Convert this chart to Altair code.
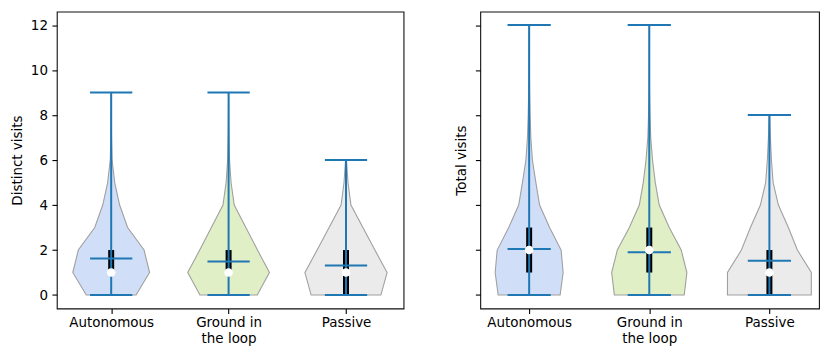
import altair as alt
import pandas as pd

categories = ["Autonomous", "Ground in the loop", "Passive"]
positions = [1, 2, 3]
fill_colors = ["#d0dff7", "#e0efc6", "#ebebeb"]

# Violin half-widths (x data units) read at integer y values
distinct_levels_auto = [0, 1, 2, 3, 4, 5, 6, 7, 8, 9]
distinct_hw_auto = [0.212, 0.327, 0.280, 0.140, 0.072, 0.030, 0.008, 0.003, 0.001, 0.0]
distinct_levels_ground = [0, 1, 2, 3, 4, 5, 6, 7, 8, 9]
distinct_hw_ground = [0.244, 0.348, 0.246, 0.147, 0.048, 0.021, 0.008, 0.003, 0.001, 0.0]
distinct_levels_passive = [0, 1, 2, 3, 4, 5, 6]
distinct_hw_passive = [0.297, 0.350, 0.246, 0.144, 0.042, 0.017, 0.004]

total_levels_auto = [0, 1, 2, 3, 4, 5, 6, 7, 8, 9, 10, 11, 12]
total_hw_auto = [0.258, 0.283, 0.266, 0.170, 0.087, 0.056, 0.027, 0.014, 0.008, 0.004, 0.002, 0.001, 0.0]
total_levels_ground = [0, 1, 2, 3, 4, 5, 6, 7, 8, 9, 10, 11, 12]
total_hw_ground = [0.291, 0.313, 0.266, 0.166, 0.083, 0.050, 0.027, 0.012, 0.006, 0.002, 0.001, 0.0005, 0.0]
total_levels_passive = [0, 1, 2, 3, 4, 5, 6, 7, 8]
total_hw_passive = [0.349, 0.349, 0.233, 0.158, 0.075, 0.031, 0.017, 0.008, 0.002]

# Summary statistics
distinct_min = [0, 0, 0]
distinct_max = [9, 9, 6]
distinct_mean = [1.62, 1.49, 1.31]
distinct_median = [1, 1, 1]
distinct_q1 = [1, 1, 0]
distinct_q3 = [2, 2, 2]

total_min = [0, 0, 0]
total_max = [12, 12, 8]
total_mean = [2.05, 1.90, 1.52]
total_median = [2, 2, 1]
total_q1 = [1, 1, 0]
total_q3 = [3, 3, 2]

y_ticks = [0, 2, 4, 6, 8, 10, 12]
CAP = 0.18
BLUE = "#1f77b4"
FONT = "DejaVu Sans"
FS = 13.5

label_expr = ("datum.value == 1 ? 'Autonomous' : datum.value == 2 ? "
              "['Ground in', 'the loop'] : 'Passive'")


def panel(levels, hws, mins, maxs, means, medians, q1s, q3s, ytitle, xdom, width, show_labels):
    xscale = alt.Scale(domain=xdom, nice=False, zero=False)
    yscale = alt.Scale(domain=[-0.6, 12.6], nice=False, zero=False)
    xaxis = alt.Axis(values=positions, labelExpr=label_expr, title=None,
                     labelLineHeight=16, labelPadding=2)
    yaxis = alt.Axis(values=y_ticks, title=ytitle, labels=show_labels,
                     titlePadding=6, labelPadding=4.5)

    layers = []
    for c, p, lv, hw, col in zip(categories, positions, levels, hws, fill_colors):
        vdf = pd.DataFrame({"y": lv, "lo": [p - h for h in hw], "hi": [p + h for h in hw]})
        layers.append(
            alt.Chart(vdf).mark_area(
                orient="horizontal", fill=col, stroke="#a0a0a0", strokeWidth=1.1, opacity=1
            ).encode(
                y=alt.Y("y:Q", scale=yscale, axis=yaxis),
                x=alt.X("lo:Q", scale=xscale, axis=xaxis, stack=None),
                x2="hi:Q",
            )
        )

    sdf = pd.DataFrame({
        "cat": categories, "pos": positions,
        "mn": mins, "mx": maxs, "mean": means, "median": medians,
        "q1": q1s, "q3": q3s,
    })
    sdf["clo"] = sdf["pos"] - CAP
    sdf["chi"] = sdf["pos"] + CAP
    base = alt.Chart(sdf)
    iqr = base.mark_rule(color="black", strokeWidth=6, strokeCap="butt").encode(
        x="pos:Q", y="q1:Q", y2="q3:Q")
    stem = base.mark_rule(color=BLUE, strokeWidth=2).encode(
        x="pos:Q", y="mn:Q", y2="mx:Q")
    cap_min = base.mark_rule(color=BLUE, strokeWidth=2).encode(
        x="clo:Q", x2="chi:Q", y="mn:Q")
    cap_max = base.mark_rule(color=BLUE, strokeWidth=2).encode(
        x="clo:Q", x2="chi:Q", y="mx:Q")
    cap_mean = base.mark_rule(color=BLUE, strokeWidth=2).encode(
        x="clo:Q", x2="chi:Q", y="mean:Q")
    med = base.mark_point(shape="circle", filled=True, color="white", size=75, opacity=1).encode(
        x="pos:Q", y="median:Q")
    layers += [iqr, stem, cap_min, cap_max, cap_mean, med]
    return alt.layer(*layers).properties(width=width, height=298)


left = panel(
    [distinct_levels_auto, distinct_levels_ground, distinct_levels_passive],
    [distinct_hw_auto, distinct_hw_ground, distinct_hw_passive],
    distinct_min, distinct_max, distinct_mean, distinct_median, distinct_q1, distinct_q3,
    "Distinct visits", [0.537, 3.49], 348, True)
right = panel(
    [total_levels_auto, total_levels_ground, total_levels_passive],
    [total_hw_auto, total_hw_ground, total_hw_passive],
    total_min, total_max, total_mean, total_median, total_q1, total_q3,
    "Total visits", [0.593, 3.413], 340, False)

chart = alt.hconcat(left, right, spacing=50).resolve_scale(
    x="independent", y="independent"
).properties(
    padding={"left": 1, "top": 2, "right": 2, "bottom": 2}
).configure_view(
    stroke="#111", strokeWidth=1.1
).configure_axis(
    labelFont=FONT, labelFontSize=FS, labelColor="black",
    titleFont=FONT, titleFontSize=FS, titleFontWeight="normal", titleColor="black",
    tickColor="black", tickSize=4.9, tickWidth=1.1, grid=False, domain=False,
)

chart.save("out.html", embed_options={"renderer": "svg", "actions": False})
